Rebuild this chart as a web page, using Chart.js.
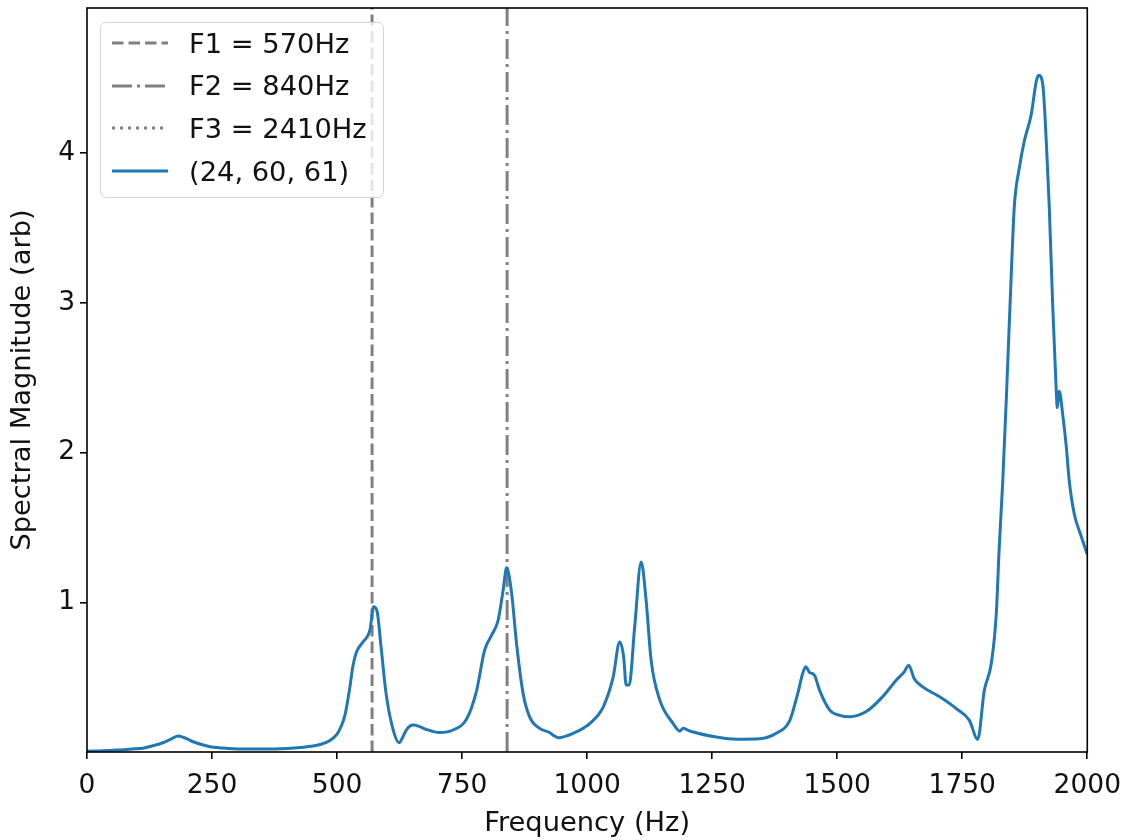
<!DOCTYPE html>
<html>
<head>
<meta charset="utf-8">
<script src="https://cdn.jsdelivr.net/npm/chart.js@4.4.1/dist/chart.umd.min.js"></script>
<style>
  body { margin: 0; background: #fff; }
  #wrap { position: relative; width: 1132px; height: 840px; }
  #legend {
    position: absolute; left: 100px; top: 22px; width: 282px; height: 174px;
    border: 1px solid #d5d5d5; border-radius: 6px; background: rgba(255,255,255,0.8);
    font-family: 'DejaVu Sans', sans-serif; font-size: 27.3px; color: #111;
  }
  .row { position: absolute; left: 0; height: 34px; display: flex; align-items: center; white-space: nowrap; }
  .row svg { margin-left: 11px; margin-right: 21px; flex: none; }
</style>
</head>
<body>
<div id="wrap">
  <canvas id="chart" width="1132" height="840"></canvas>
  <div id="legend"></div>
</div>
<script>
// spectrum
const freqs = [0, 30, 60, 90, 112, 130, 150, 170, 182, 195, 215, 246, 270, 292, 350, 400, 426, 466, 485, 500,
  508, 516, 525, 532, 539, 552, 562, 566, 573, 580, 588, 598, 612, 624, 630, 639, 652, 665, 679, 705,
  732, 759, 779, 795, 809, 822, 832, 839, 849, 859, 872, 885, 905, 925, 933, 942, 972, 1005, 1032, 1052,
  1065, 1073, 1078, 1084, 1095, 1108, 1118, 1128, 1145, 1172, 1185, 1192, 1205, 1258, 1300, 1345, 1362, 1378, 1405, 1421,
  1431, 1437, 1445, 1450, 1455, 1465, 1485, 1505, 1525, 1558, 1591, 1618, 1634, 1643, 1654, 1671, 1704, 1738, 1764, 1781,
  1794, 1808, 1818, 1824, 1831, 1838, 1848, 1854, 1864, 1874, 1888, 1898, 1903, 1911, 1918, 1924, 1931, 1938, 1940, 1944,
  1951, 1958, 1964, 1974, 1988, 2000];
const magnitudes = [0.005, 0.008, 0.013, 0.02, 0.025, 0.04, 0.06, 0.09, 0.107, 0.095, 0.065, 0.035, 0.027, 0.022, 0.02, 0.024, 0.03, 0.05, 0.075, 0.12,
  0.17, 0.25, 0.42, 0.58, 0.67, 0.735, 0.78, 0.82, 0.97, 0.94, 0.70, 0.39, 0.15, 0.062, 0.09, 0.15, 0.18, 0.17, 0.15, 0.13,
  0.147, 0.22, 0.41, 0.68, 0.78, 0.88, 1.08, 1.23, 1.06, 0.72, 0.39, 0.235, 0.158, 0.13, 0.11, 0.096, 0.125, 0.19, 0.30, 0.50,
  0.735, 0.635, 0.447, 0.447, 0.835, 1.27, 1.01, 0.61, 0.35, 0.19, 0.14, 0.158, 0.14, 0.10, 0.085, 0.088, 0.1, 0.125, 0.21, 0.39,
  0.525, 0.57, 0.53, 0.525, 0.51, 0.41, 0.28, 0.245, 0.235, 0.27, 0.37, 0.48, 0.535, 0.58, 0.49, 0.435, 0.37, 0.29, 0.213, 0.084,
  0.41, 0.59, 0.92, 1.37, 1.81, 2.35, 3.19, 3.64, 3.90, 4.08, 4.26, 4.48, 4.52, 4.46, 4.08, 3.64, 2.97, 2.41, 2.30, 2.41,
  2.25, 2.04, 1.81, 1.59, 1.44, 1.32];

const formantNames = ['F1', 'F2', 'F3'];
const formantFreqs = [570, 840, 2410];
const seriesLabel = '(24, 60, 61)';

const xTicks = [0, 250, 500, 750, 1000, 1250, 1500, 1750, 2000];
const yTicks = [1, 2, 3, 4];
const yMax = 4.97;

const dashes = [[11.5, 5], [20, 5, 3, 5], [3, 5]];
const tickFont = { family: 'DejaVu Sans', size: 26.5 };
const labelFont = { family: 'DejaVu Sans', size: 27.3 };

const datasets = [{
  label: seriesLabel,
  data: freqs.map((f, i) => ({ x: f, y: magnitudes[i] })),
  borderColor: '#1f77b4',
  borderWidth: 3,
  pointRadius: 0,
  cubicInterpolationMode: 'monotone',
  order: 0
}];
formantFreqs.forEach((f, i) => {
  datasets.push({
    label: formantNames[i] + ' = ' + f + 'Hz',
    data: [{ x: f, y: 0 }, { x: f, y: yMax }],
    borderColor: '#808080',
    borderWidth: 3,
    borderDash: dashes[i],
    pointRadius: 0,
    order: 1
  });
});

const frame = {
  id: 'frame',
  afterDatasetsDraw(chart) {
    const a = chart.chartArea, ctx = chart.ctx;
    ctx.save();
    ctx.strokeStyle = '#000';
    ctx.lineWidth = 1.6;
    ctx.strokeRect(a.left, a.top, a.right - a.left, a.bottom - a.top);
    ctx.restore();
  }
};

new Chart(document.getElementById('chart'), {
  type: 'line',
  data: { datasets },
  options: {
    responsive: false,
    animation: false,
    devicePixelRatio: 1,
    layout: { padding: { top: 8, right: 44, left: 0, bottom: 0 } },
    plugins: { legend: { display: false }, tooltip: { enabled: false } },
    scales: {
      x: {
        type: 'linear', min: 0, max: 2000,
        afterBuildTicks: s => { s.ticks = xTicks.map(v => ({ value: v })); },
        afterFit: s => { s.height = 88; },
        grid: { drawOnChartArea: false, color: '#000', lineWidth: 1.6, tickLength: 7 },
        border: { display: false },
        ticks: { color: '#111', font: tickFont, padding: 11, maxRotation: 0, callback: v => String(v) },
        title: { display: true, text: 'Frequency (Hz)', color: '#111', font: labelFont, padding: { top: 0, bottom: 0 } }
      },
      y: {
        min: 0, max: yMax,
        afterBuildTicks: s => { s.ticks = yTicks.map(v => ({ value: v })); },
        afterFit: s => { s.width = 87; s.paddingTop = 0; s.paddingBottom = 0; },
        grid: { drawOnChartArea: false, color: '#000', lineWidth: 1.6, tickLength: 7 },
        border: { display: false },
        ticks: { color: '#111', font: tickFont, padding: 5, callback: v => String(v) },
        title: { display: true, text: 'Spectral Magnitude (arb)', color: '#111', font: labelFont, padding: 7 }
      }
    }
  },
  plugins: [frame]
});

// legend drawn in the upper-left corner of the plot like the original
const legend = document.getElementById('legend');
const entries = formantFreqs.map((f, i) => ({ text: formantNames[i] + ' = ' + f + 'Hz', color: '#808080', dash: dashes[i] }));
entries.push({ text: seriesLabel, color: '#1f77b4', dash: null });
entries.forEach((e, i) => {
  const row = document.createElement('div');
  row.className = 'row';
  row.style.top = (3 + i * 42.7) + 'px';
  const dash = e.dash ? ` stroke-dasharray="${e.dash.join(' ')}"` : '';
  row.innerHTML = `<svg width="56" height="6"><line x1="0" y1="3" x2="56" y2="3" stroke="${e.color}" stroke-width="3"${dash}/></svg><span>${e.text}</span>`;
  legend.appendChild(row);
});
</script>
</body>
</html>
